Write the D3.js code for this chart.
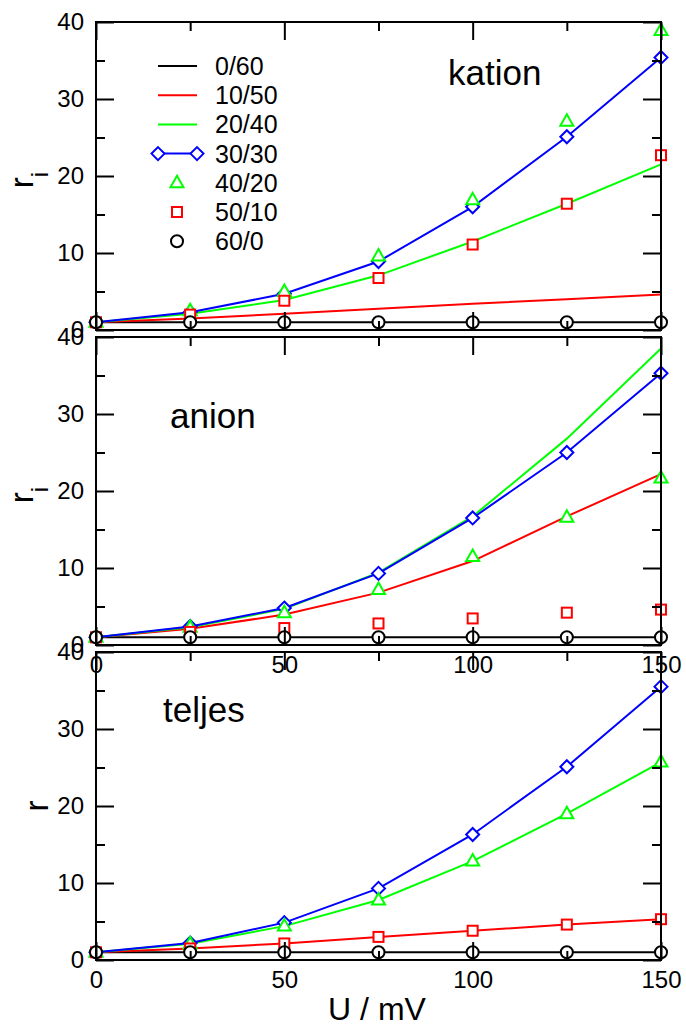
<!DOCTYPE html>
<meta charset="utf-8">
<script src="https://d3js.org/d3.v7.min.js"></script>
<style>
  body { margin: 0; background: #fff; }
  svg text { font-family: 'Liberation Sans', Arial, sans-serif; fill: #000; }
</style>
<body>
<div id="my_dataviz"></div>
<script>

// x values (U / mV) and series names
var U = [0, 25, 50, 75, 100, 125, 150];
var seriesNames = ["0/60", "10/50", "20/40", "30/30", "40/20", "50/10", "60/0"];

// kation
var kat_0_60  = [1, 1, 1, 1, 1, 1, 1];
var kat_10_50 = [1, 1.5, 2.1, 2.75, 3.4, 4.0, 4.6];
var kat_20_40 = [1, 2.1, 3.9, 7.1, 11.5, 16.4, 21.5];
var kat_30_30 = [1, 2.3, 4.7, 8.9, 16.0, 25.1, 35.4];
var kat_40_20 = [1, 2.5, 5.0, 9.6, 16.9, 27.1, 38.9];
var kat_50_10 = [1, 2.0, 3.8, 6.75, 11.1, 16.4, 22.7];
var kat_60_0  = [1, 1, 1, 1, 1, 1, 1];

// anion
var an_0_60  = [1, 1, 1, 1, 1, 1, 1];
var an_10_50 = [1, 2.1, 3.95, 6.8, 10.9, 16.7, 22.2];
var an_20_40 = [1, 2.3, 4.7, 9.4, 16.7, 26.8, 38.5];
var an_30_30 = [1, 2.4, 4.8, 9.3, 16.5, 25.0, 35.3];
var an_40_20 = [1, 2.3, 4.2, 7.2, 11.5, 16.6, 21.7];
var an_50_10 = [1, 1.7, 2.2, 2.8, 3.45, 4.2, 4.6];
var an_60_0  = [1, 1, 1, 1, 1, 1, 1];

// teljes
var tel_0_60  = [1, 1, 1, 1, 1, 1, 1];
var tel_10_50 = [1, 1.5, 2.15, 3.0, 3.8, 4.6, 5.3];
var tel_20_40 = [1, 2.1, 4.4, 7.8, 12.85, 19.0, 25.7];
var tel_30_30 = [1, 2.2, 4.85, 9.3, 16.3, 25.1, 35.5];
var tel_40_20 = [1, 2.1, 4.4, 7.8, 12.85, 19.0, 25.7];
var tel_50_10 = [1, 1.5, 2.15, 3.0, 3.8, 4.6, 5.3];
var tel_60_0  = [1, 1, 1, 1, 1, 1, 1];

var yTicks = [0, 10, 20, 30, 40];
var xTicks = [0, 50, 100, 150];

// style of each set: line colour / symbol
var styles = [
  {line: "#000000", sym: null},
  {line: "#ff0000", sym: null},
  {line: "#00ff00", sym: null},
  {line: "#0000ff", sym: "diamond", sc: "#0000ff"},
  {line: null, sym: "triangle", sc: "#00ff00"},
  {line: null, sym: "square", sc: "#ff0000"},
  {line: null, sym: "circle", sc: "#000000"}
];

var panels = [
  {name: "kation", data: [kat_0_60, kat_10_50, kat_20_40, kat_30_30, kat_40_20, kat_50_10, kat_60_0],
   top: 22, ylab: "r", sub: "i", labX: 448, labY: 85, xlabels: false, legend: true},
  {name: "anion", data: [an_0_60, an_10_50, an_20_40, an_30_30, an_40_20, an_50_10, an_60_0],
   top: 337, ylab: "r", sub: "i", labX: 170, labY: 428, xlabels: true, legend: false},
  {name: "teljes", data: [tel_0_60, tel_10_50, tel_20_40, tel_30_30, tel_40_20, tel_50_10, tel_60_0],
   top: 652, ylab: "r", sub: null, labX: 163, labY: 722, xlabels: true, legend: false}
];

var W = 686, H = 1027, left = 96, right = 661, ph = 308;

var svg = d3.select("#my_dataviz").append("svg")
  .attr("width", W).attr("height", H);

var x = d3.scaleLinear().domain([0, 150]).range([left, right]);

function drawSymbol(g, type, cx, cy, color) {
  var s;
  if (type == "circle") {
    s = g.append("circle").attr("cx", cx).attr("cy", cy).attr("r", 6);
  } else if (type == "square") {
    s = g.append("rect").attr("x", cx - 5).attr("y", cy - 5).attr("width", 10).attr("height", 10);
  } else if (type == "diamond") {
    s = g.append("path").attr("d", "M" + cx + "," + (cy - 6.5) + "L" + (cx + 6.5) + "," + cy +
      "L" + cx + "," + (cy + 6.5) + "L" + (cx - 6.5) + "," + cy + "Z");
  } else if (type == "triangle") {
    s = g.append("path").attr("d", "M" + cx + "," + (cy - 7) + "L" + (cx + 6.5) + "," + (cy + 4.5) +
      "L" + (cx - 6.5) + "," + (cy + 4.5) + "Z");
  }
  s.attr("fill", "#fff").attr("stroke", color).attr("stroke-width", 2);
}

panels.forEach(function(p) {
  var bottom = p.top + ph;
  var y = d3.scaleLinear().domain([0, 40]).range([bottom, p.top]);
  var g = svg.append("g");

  // data sets, drawn in order
  p.data.forEach(function(vals, i) {
    var st = styles[i];
    var pts = U.map(function(u, j) { return [x(u), y(vals[j])]; });
    if (st.line) {
      g.append("path").attr("d", d3.line()(pts))
        .attr("fill", "none").attr("stroke", st.line).attr("stroke-width", 2);
    }
    if (st.sym) {
      pts.forEach(function(pt) { drawSymbol(g, st.sym, pt[0], pt[1], st.sc); });
    }
  });

  // axes with inward ticks
  var ax = svg.append("g");
  var yMaj = d3.axisLeft(y).tickValues(yTicks).tickSize(-18).tickSizeOuter(0).tickPadding(12);
  var yMin = d3.axisLeft(y).tickValues([5, 15, 25, 35]).tickSize(-9).tickSizeOuter(0).tickFormat("");
  var yMajR = d3.axisRight(y).tickValues(yTicks).tickSize(-18).tickSizeOuter(0).tickFormat("");
  var yMinR = d3.axisRight(y).tickValues([5, 15, 25, 35]).tickSize(-9).tickSizeOuter(0).tickFormat("");
  var xMaj = d3.axisBottom(x).tickValues(xTicks).tickSize(-18).tickSizeOuter(0).tickPadding(11);
  if (!p.xlabels) xMaj.tickFormat("");
  var xMin = d3.axisBottom(x).tickValues([25, 75, 125]).tickSize(-9).tickSizeOuter(0).tickFormat("");
  var xMajT = d3.axisTop(x).tickValues(xTicks).tickSize(-18).tickSizeOuter(0).tickFormat("");
  var xMinT = d3.axisTop(x).tickValues([25, 75, 125]).tickSize(-9).tickSizeOuter(0).tickFormat("");

  ax.append("g").attr("transform", "translate(" + left + ",0)").call(yMaj);
  ax.append("g").attr("transform", "translate(" + left + ",0)").call(yMin);
  ax.append("g").attr("transform", "translate(" + right + ",0)").call(yMajR);
  ax.append("g").attr("transform", "translate(" + right + ",0)").call(yMinR);
  ax.append("g").attr("transform", "translate(0," + bottom + ")").call(xMaj);
  ax.append("g").attr("transform", "translate(0," + bottom + ")").call(xMin);
  ax.append("g").attr("transform", "translate(0," + p.top + ")").call(xMajT);
  ax.append("g").attr("transform", "translate(0," + p.top + ")").call(xMinT);

  ax.selectAll(".domain").remove();
  ax.selectAll(".tick line").attr("stroke", "#000").attr("stroke-width", 2);
  ax.selectAll(".tick text").style("font-size", "24px")
    .style("font-family", "'Liberation Sans', Arial, sans-serif").attr("fill", "#000");

  // frame
  svg.append("rect").attr("x", left).attr("y", p.top)
    .attr("width", right - left).attr("height", ph)
    .attr("fill", "none").attr("stroke", "#000").attr("stroke-width", 2);

  // panel label
  svg.append("text").attr("x", p.labX).attr("y", p.labY)
    .style("font-size", "35px").text(p.name);

  // y label
  var cy = (p.top + bottom) / 2;
  var yl = svg.append("text")
    .attr("transform", "translate(" + (p.sub ? 33 : 48) + "," + (p.sub ? cy + 4 : cy) + ") rotate(-90)")
    .attr("text-anchor", "middle")
    .style("font-size", "33px");
  yl.append("tspan").text(p.ylab);
  if (p.sub) {
    yl.append("tspan").attr("dy", 15).style("font-size", "24px").text(p.sub);
  }

  // legend
  if (p.legend) {
    var lg = svg.append("g");
    seriesNames.forEach(function(nm, i) {
      var ly = 66 + i * 29.2;
      var st = styles[i];
      if (st.line) {
        lg.append("line").attr("x1", 158).attr("x2", 197).attr("y1", ly).attr("y2", ly)
          .attr("stroke", st.line).attr("stroke-width", 2);
        if (st.sym) {
          drawSymbol(lg, st.sym, 158, ly, st.sc);
          drawSymbol(lg, st.sym, 197, ly, st.sc);
        }
      } else {
        drawSymbol(lg, st.sym, 177, ly, st.sc);
      }
      lg.append("text").attr("x", 215).attr("y", ly).attr("dy", "0.36em")
        .style("font-size", "25px").text(nm);
    });
  }
});

// x axis title
svg.append("text").attr("x", 377).attr("y", 1020).attr("text-anchor", "middle")
  .style("font-size", "32px").text("U / mV");

</script>
</body>
